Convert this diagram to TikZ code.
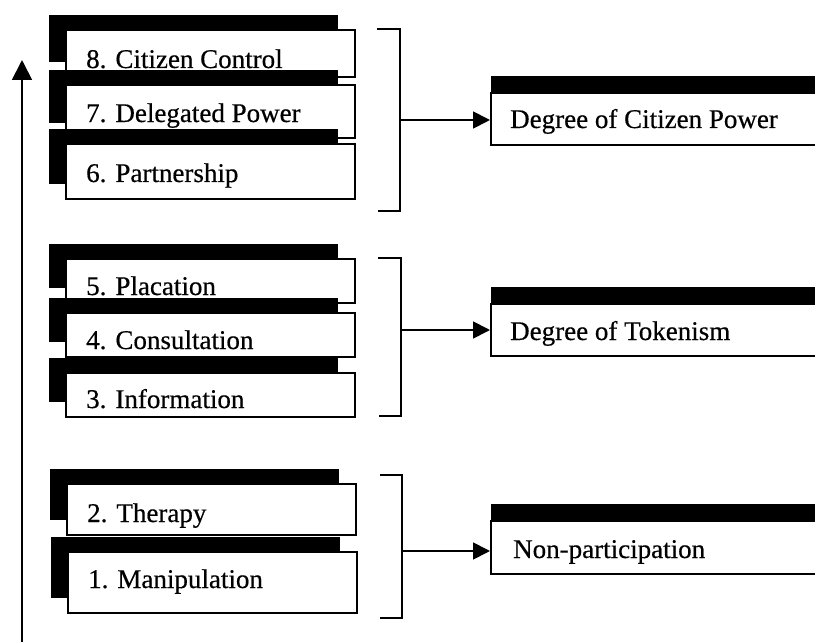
\documentclass[tikz,border=0pt]{standalone}
\usepackage{fontspec}
\setmainfont{Liberation Serif}
\newfontfamily\lblfont{Liberation Serif}[FakeBold=0.5]
\usetikzlibrary{shadows,arrows.meta}

\begin{document}
\begin{tikzpicture}[x=1pt,y=-1pt,
  rung/.style={draw, line width=1.6pt, fill=white, anchor=north west,
    minimum width=289pt, inner sep=0pt,
    general shadow={fill=black, shadow xshift=-17pt, shadow yshift=15pt}},
  level/.style={draw, line width=1.6pt, fill=white, anchor=north west,
    minimum width=350pt, minimum height=52pt, inner sep=0pt,
    general shadow={fill=black, shadow xshift=0pt, shadow yshift=17pt}},
  lbl/.style={anchor=base west, inner sep=0pt,
    font=\lblfont\fontsize{27pt}{30pt}\selectfont},
  brk/.style={line width=2.4pt},
  link/.style={line width=1.8pt, -{Triangle[length=17pt,width=17pt]}}]

\useasboundingbox (0,0) rectangle (815,642);
\clip (0,0) rectangle (815,642);

% the ladder of participation, top rung first
\node[rung, minimum height=47pt] (b8) at (65,29) {};
\node[lbl] (t8) at (86,68) {8. Citizen Control};
\node[rung, minimum height=53pt] (b7) at (65,84) {};
\node[lbl] (t7) at (86,122) {7. Delegated Power};
\node[rung, minimum height=55pt] (b6) at (65,143) {};
\node[lbl] (t6) at (86,182) {6. Partnership};

\node[rung, minimum height=44pt] (b5) at (65,258) {};
\node[lbl] (t5) at (86,295) {5. Placation};
\node[rung, minimum height=44pt] (b4) at (65,312) {};
\node[lbl] (t4) at (86,349) {4. Consultation};
\node[rung, minimum height=44pt] (b3) at (65,372) {};
\node[lbl] (t3) at (86,408) {3. Information};

\node[rung, minimum height=51pt] (b2) at (66,483) {};
\node[lbl] (t2) at (87,522) {2. Therapy};
\node[rung, minimum height=61pt] (b1) at (67,551) {};
\node[lbl] (t1) at (88,588) {1. Manipulation};

% groupings
\node[level] (r1) at (490,92) {};
\node[lbl] (s1) at (510,128) {Degree of Citizen Power};
\node[level] (r2) at (490,303) {};
\node[lbl] (s2) at (510,340) {Degree of Tokenism};
\node[level, minimum height=53pt] (r3) at (490,520) {};
\node[lbl] (s3) at (513,558) {Non-participation};

% brackets
\draw[brk] (377,29) -| (400,211) -- (378,211);
\draw[brk] (378,258) -| (401,416) -- (379,416);
\draw[brk] (380,475) -| (402,618) -- (380,618);

\coordinate (k1) at (400,120);
\coordinate (k2) at (401,330);
\coordinate (k3) at (402,551);
\draw[link] (k1) -- (k1 -| r1.west);
\draw[link] (k2) -- (k2 -| r2.west);
\draw[link] (k3) -- (k3 -| r3.west);

% rising axis
\coordinate (a0) at (22,645);
\coordinate (a1) at (22,60);
\draw[line width=1.8pt, -{Triangle[length=20pt,width=20pt]}] (a0) -- (a1);
\end{tikzpicture}
\end{document}
